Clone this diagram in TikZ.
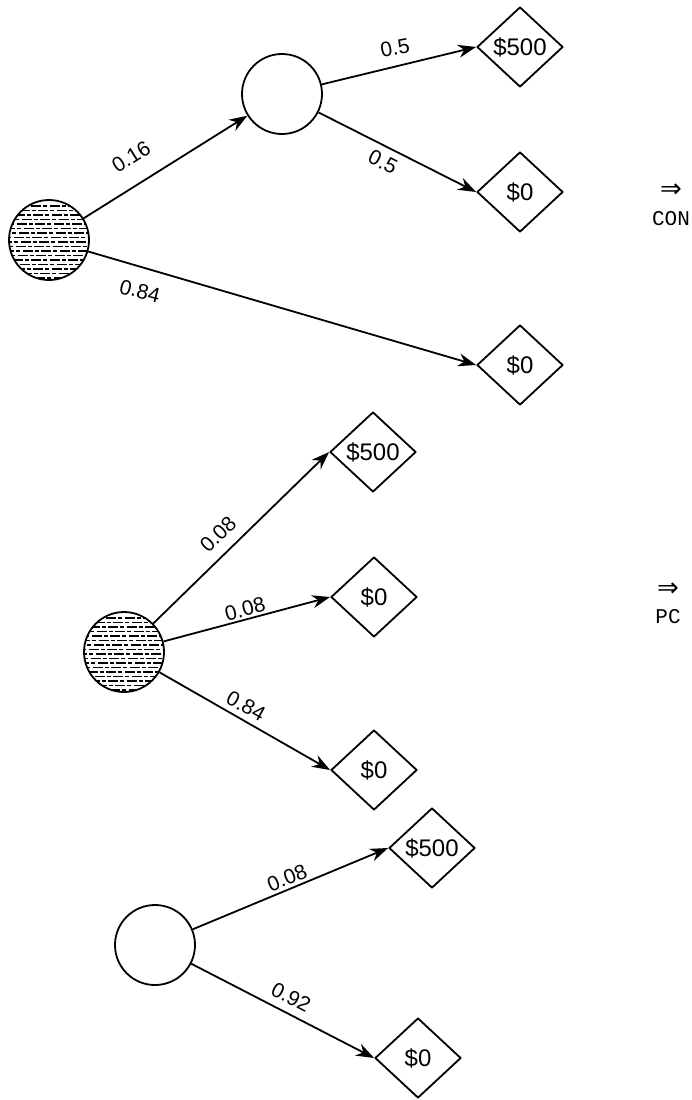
\documentclass[tikz,border=0pt]{standalone}
\usepackage{fontspec}
\setsansfont{Liberation Sans}
\setmonofont{Liberation Mono}
\newfontfamily\arrowfont{DejaVu Sans}
\usetikzlibrary{shapes.geometric, arrows.meta, positioning}

\begin{document}
\begin{tikzpicture}[x=1pt, y=-1pt, >={Stealth[length=18pt,width=13pt]}, line join=round,
    chance/.style={circle, draw, line width=1.8pt, minimum size=80pt, inner sep=0pt},
    shaded/.style={chance, path picture={
        \foreach \k [count=\i, evaluate=\i as \ph using {mod(\i*7,12)}] in {-38,-33.5,...,38}
          \draw[line width=1.3pt, dash pattern=on 10pt off 2pt on 4pt off 2.5pt, dash phase=\ph pt]
            ([xshift=-44pt, yshift=\k pt]path picture bounding box.center) -- ++(88pt,0pt);
      }},
    payoff/.style={diamond, draw, line width=1.8pt, minimum width=86pt, minimum height=80pt,
      inner sep=0pt, font=\sffamily\fontsize{24}{24}\selectfont},
    prob/.style={font=\sffamily\fontsize{21}{21}\selectfont, inner sep=1pt},
    branch/.style={->, line width=1.8pt},
    verdict/.style={font=\ttfamily\fontsize{21}{21}\selectfont, inner sep=0pt},
    implies/.style={font=\arrowfont\fontsize{26}{26}\selectfont, inner sep=0pt}]
      \useasboundingbox (0,0) rectangle (691,1100);
      % first tree
      \node[shaded] (r1) at (49,240) {};
      \node[chance] (c1) at (282,94) {};
      \node[payoff] (t1) at (520,47) {\$500};
      \node[payoff] (t2) at (520,192) {\$0};
      \node[payoff] (t3) at (520,365) {\$0};
      \draw[branch] (r1) -- (c1);
      \draw[branch] (c1) -- (t1.west);
      \draw[branch] (c1) -- (t2.west);
      \draw[branch] (r1) -- (t3.west);
      \node[prob, rotate=32] (p1) at (131,157) {0.16};
      \node[prob, rotate=-14] (p2) at (140,291) {0.84};
      \node[prob, rotate=10] (p3) at (395,48) {0.5};
      \node[prob, rotate=-27] (p4) at (383,162) {0.5};
      \node[implies] (v1) at (671,191) {⇒};
      \node[verdict] (con) at (671,219) {CON};
      % second tree
      \node[shaded] (r2) at (124,652) {};
      \node[payoff] (m1) at (373,452) {\$500};
      \node[payoff] (m2) at (374,597) {\$0};
      \node[payoff] (m3) at (374,770) {\$0};
      \draw[branch] (r2) -- (m1.west);
      \draw[branch] (r2) -- (m2.west);
      \draw[branch] (r2) -- (m3.west);
      \node[prob, rotate=44] (p5) at (218,534) {0.08};
      \node[prob, rotate=15] (p6) at (245,609) {0.08};
      \node[prob, rotate=-29] (p7) at (246,706) {0.84};
      \node[implies] (v2) at (668,590) {⇒};
      \node[verdict] (pc) at (668,617) {PC};
      % third tree
      \node[chance] (c3) at (155,945) {};
      \node[payoff] (b1) at (432,848) {\$500};
      \node[payoff] (b2) at (418,1058) {\$0};
      \draw[branch] (c3) -- (b1.west);
      \draw[branch] (c3) -- (b2.west);
      \node[prob, rotate=22] (p8) at (287,878) {0.08};
      \node[prob, rotate=-27] (p9) at (291,997) {0.92};
    \end{tikzpicture}
\end{document}
